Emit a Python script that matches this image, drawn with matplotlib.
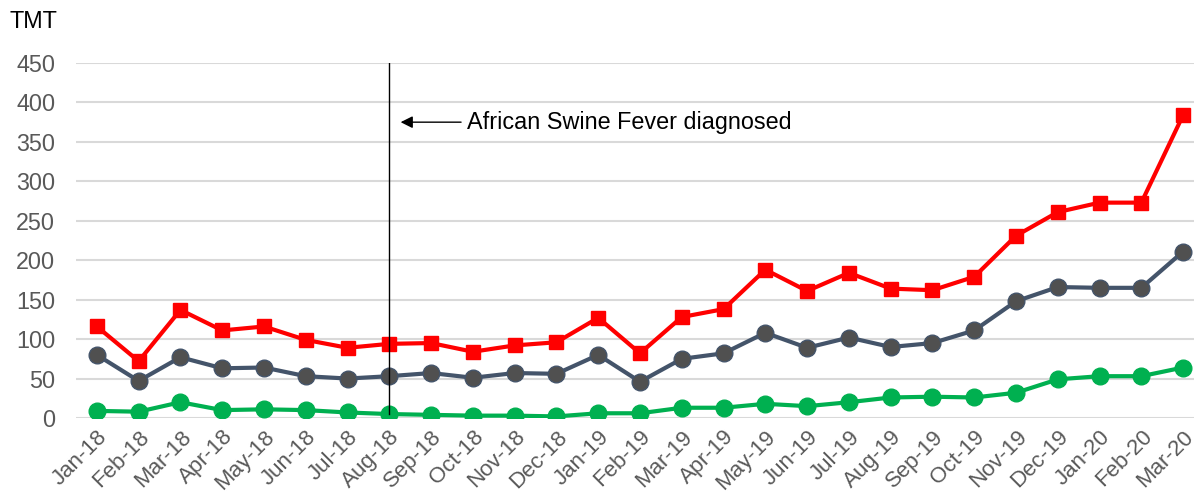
import matplotlib.pyplot as plt

months = ["Jan-18", "Feb-18", "Mar-18", "Apr-18", "May-18", "Jun-18", "Jul-18", "Aug-18",
          "Sep-18", "Oct-18", "Nov-18", "Dec-18", "Jan-19", "Feb-19", "Mar-19", "Apr-19",
          "May-19", "Jun-19", "Jul-19", "Aug-19", "Sep-19", "Oct-19", "Nov-19", "Dec-19",
          "Jan-20", "Feb-20", "Mar-20"]
red_vals = [116, 72, 137, 111, 116, 99, 89, 94, 95, 84, 92, 96, 127, 82, 128, 138,
            188, 161, 184, 164, 162, 179, 231, 261, 273, 273, 384]
gray_vals = [80, 47, 77, 63, 64, 53, 50, 53, 57, 51, 57, 56, 80, 46, 75, 82,
             108, 89, 102, 90, 95, 111, 148, 166, 165, 165, 211]
green_vals = [9, 8, 20, 10, 11, 10, 7, 5, 4, 3, 3, 2, 6, 6, 13, 13,
              18, 15, 20, 26, 27, 26, 32, 49, 53, 53, 64]
event_month = "Aug-18"
event_text = "African Swine Fever diagnosed"

plt.rcParams['font.family'] = ['Liberation Sans', 'DejaVu Sans']

fig = plt.figure(figsize=(11.94, 4.91), dpi=100)
ax = fig.add_axes([76 / 1194, 73 / 491, 1118 / 1194, 355 / 491])

x = list(range(len(months)))
ax.plot(x, red_vals, color='#FF0000', lw=3, marker='s', ms=10.5, zorder=3)
ax.plot(x, gray_vals, color='#44546A', lw=3, marker='o', ms=12,
        markerfacecolor='#505050', markeredgecolor='#44546A', zorder=3)
ax.plot(x, green_vals, color='#00B050', lw=3, marker='o', ms=12, zorder=3)

ev = months.index(event_month)
ax.plot([ev, ev], [450, 5], color='black', lw=1, zorder=4)
ax.annotate(event_text, xy=(ev + 0.27, 375), xytext=(ev + 1.85, 375),
            fontsize=16.8, va='center', ha='left', color='black',
            arrowprops=dict(arrowstyle='-|>', color='black', lw=1, mutation_scale=18,
                            shrinkA=2, shrinkB=0))

ax.set_xlim(-0.5, 26.26)
ax.set_ylim(0, 450)
ax.set_yticks(range(0, 451, 50))
ax.set_xticks(x)
ax.set_xticklabels(months, rotation=45, ha='right', rotation_mode='anchor')
ax.tick_params(axis='both', length=0, colors='#595959', labelsize=16.8)
ax.tick_params(axis='x', labelsize=16, pad=6)
ax.tick_params(axis='y', pad=15)
ax.grid(axis='y', color='#D9D9D9', lw=1.5)
ax.set_axisbelow(True)
for s in ax.spines.values():
    s.set_visible(False)

fig.text(10 / 1194, 1 - 22 / 491, "TMT", fontsize=16.8, va='center', ha='left', color='black')

fig.savefig("out.png", dpi=100)
